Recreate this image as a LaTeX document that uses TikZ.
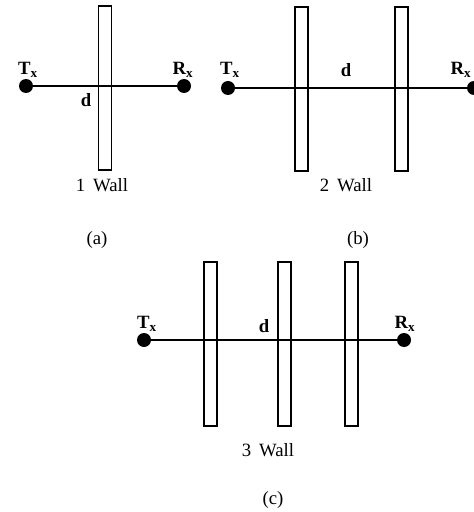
\documentclass[tikz,border=0pt]{standalone}
\usepackage{fontspec}
\setmainfont{Liberation Serif}
\usepackage{tikz}
\usetikzlibrary{positioning}

\tikzset{
  wall/.style={draw,line width=1.1pt,minimum width=0.39cm,minimum height=4.92cm,inner sep=0pt},
  station/.style={circle,fill=black,minimum size=0.42cm,inner sep=0pt},
  link/.style={line width=1.1pt},
  tag/.style={font=\fontsize{16}{18}\selectfont\bfseries,inner sep=0pt},
  caption/.style={font=\fontsize{16}{18}\selectfont,inner sep=0pt}
}
\newcommand{\Tx}{T$_{\mathbf{x}}$}
\newcommand{\Rx}{R$_{\mathbf{x}}$}

\begin{document}
\begin{tikzpicture}[x=0.03cm,y=-0.03cm]
  \useasboundingbox (0,0) rectangle (473,512);
  % (a) one wall
  \node[wall] (a1) at (105,88) {};
  \node[station] (ta) at (26,86) {};
  \node[station] (ra) at (184,86) {};
  \draw[link] (ta) -- (ra);
  \node[tag] (tal) at (28,70) {\Tx};
  \node[tag] (ral) at (183,70) {\Rx};
  \node[tag] (da) at (86,100) {d};
  \node[caption] (wa) at (102,185) {1\, Wall};
  \node[caption] (ca) at (97,240) {(a)};
  % (b) two walls
  \foreach \w/\x in {b1/301.5,b2/401.5}
    \node[wall] (\w) at (\x,89) {};
  \node[station] (tb) at (228,88) {};
  \node[station] (rb) at (474,88) {};
  \draw[link] (tb) -- (rb);
  \node[tag] (tbl) at (230,70) {\Tx};
  \node[tag] (rbl) at (461,70) {\Rx};
  \node[tag] (db) at (346,70) {d};
  \node[caption] (wb) at (346,185) {2\, Wall};
  \node[caption] (cb) at (358,240) {(b)};
  % (c) three walls
  \foreach \w/\x in {c1/210.5,c2/284.5,c3/351.5}
    \node[wall] (\w) at (\x,344) {};
  \node[station] (tc) at (144,340) {};
  \node[station] (rc) at (404,340) {};
  \draw[link] (tc) -- (rc);
  \node[tag] (tcl) at (147,324) {\Tx};
  \node[tag] (rcl) at (405,324) {\Rx};
  \node[tag] (dc) at (264,326) {d};
  \node[caption] (wc) at (268,450) {3\, Wall};
  \node[caption] (cc) at (273,500) {(c)};
\end{tikzpicture}
\end{document}
